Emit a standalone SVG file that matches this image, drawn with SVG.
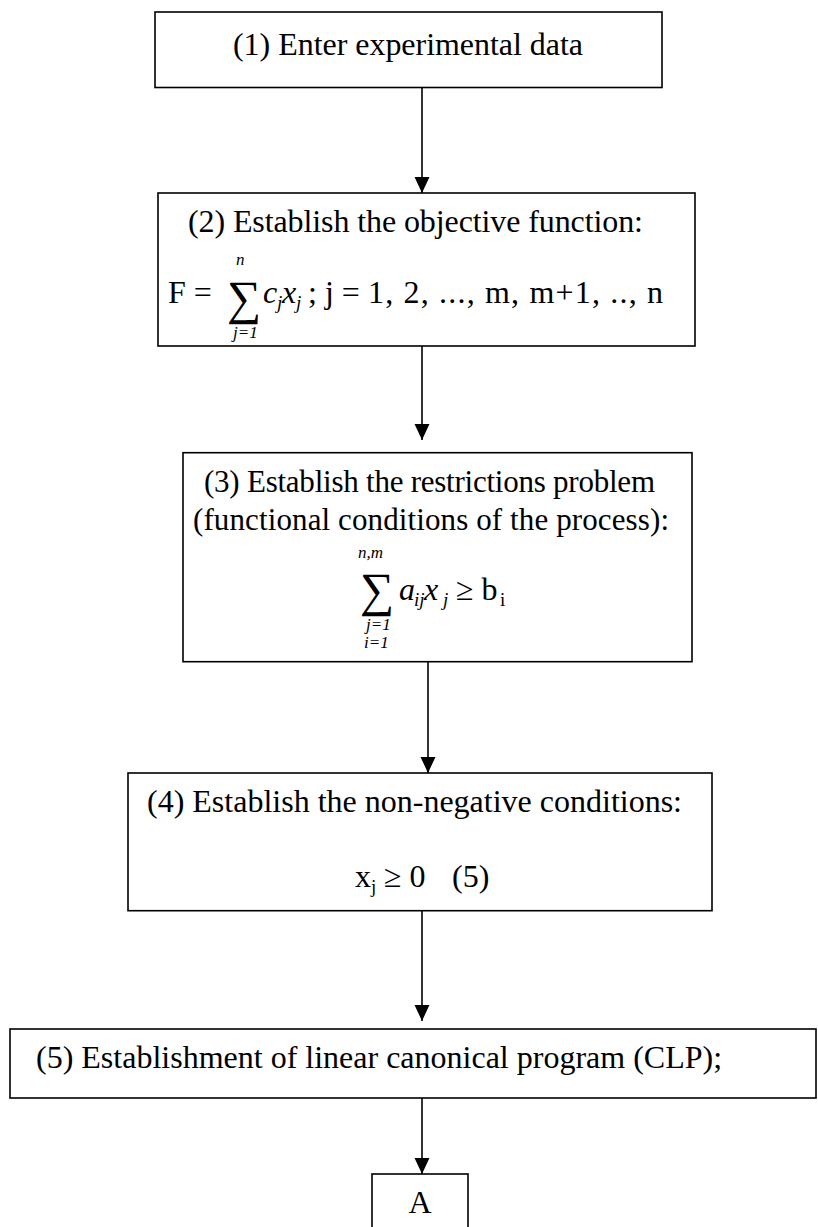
<svg xmlns="http://www.w3.org/2000/svg" width="818" height="1227" viewBox="0 0 818 1227">
  <style>
    .box { fill: #ffffff; stroke: #000000; stroke-width: 1.6; }
    .t { font-family: "Liberation Serif", "Times New Roman", serif; font-size: 32px; fill: #000000; }
    .t31 { font-size: 31px; }
    .it { font-style: italic; }
    .sub { font-size: 19px; }
    .lim { font-size: 17px; }
    .sig { font-family: "Liberation Serif", "DejaVu Serif", serif; font-size: 48px; fill: #000000; }
    .mid { text-anchor: middle; }
    .edge { stroke: #000000; stroke-width: 1.6; fill: none; marker-end: url(#head); }
  </style>
  <defs>
    <marker id="head" markerUnits="userSpaceOnUse" markerWidth="16" markerHeight="16" viewBox="0 0 15 14" refX="15" refY="7" orient="auto">
      <path d="M0,0 L15,7 L0,14 z" fill="#000000"/>
    </marker>
  </defs>

  <rect width="818" height="1227" fill="#ffffff"/>

  <!-- flow arrows between the steps -->
  <g id="connectors">
    <line class="edge" x1="422" y1="87.5" x2="422" y2="193"/>
    <line class="edge" x1="422" y1="346" x2="422" y2="440"/>
    <line class="edge" x1="428" y1="662" x2="428" y2="773"/>
    <line class="edge" x1="422" y1="911" x2="422" y2="1021"/>
    <line class="edge" x1="422" y1="1098" x2="422" y2="1174"/>
  </g>

  <g id="node-1">
    <rect class="box" x="155" y="12" width="507" height="75.5"/>
    <text class="t mid" x="408" y="55" textLength="350">(1) Enter experimental data</text>
  </g>

  <!-- objective function F = sum c_j x_j -->
  <g id="node-2">
    <rect class="box" x="158" y="193" width="537" height="153"/>
    <text class="t mid" x="415.5" y="232" textLength="455">(2) Establish the objective function:</text>
    <text class="t" x="168" y="303">F =</text>
    <text class="sig" x="227" y="314">∑</text>
    <text class="t it lim" x="236" y="265">n</text>
    <text class="t it lim" x="233" y="338">j=1</text>
    <text class="t it" x="263" y="303">c</text>
    <text class="t it sub" x="277" y="309">j</text>
    <text class="t it" x="282" y="303">x</text>
    <text class="t it sub" x="296" y="309">j</text>
    <text class="t" x="308" y="303">; j =</text>
    <text class="t" x="368" y="303" textLength="295">1, 2, ..., m, m+1, .., n</text>
  </g>

  <!-- restrictions: sum a_ij x_j >= b_i -->
  <g id="node-3">
    <rect class="box" x="183" y="452.7" width="509" height="209"/>
    <text class="t t31 mid" x="429.5" y="492" textLength="451">(3) Establish the restrictions problem</text>
    <text class="t t31 mid" x="431" y="530" textLength="476">(functional conditions of the process):</text>
    <text class="t it lim" x="358" y="558">n,m</text>
    <text class="sig" x="360" y="606">∑</text>
    <text class="t it" x="399" y="600">a</text>
    <text class="t it sub" x="414" y="606">ij</text>
    <text class="t it" x="424" y="600">x</text>
    <text class="t it sub" x="443" y="606">j</text>
    <text class="t" x="456" y="600">≥ b</text>
    <text class="t sub" x="500" y="606">i</text>
    <text class="t it lim" x="366" y="630">j=1</text>
    <text class="t it lim" x="364" y="648">i=1</text>
  </g>

  <g id="node-4">
    <rect class="box" x="128" y="773" width="584" height="137.7"/>
    <text class="t mid" x="414.5" y="812" textLength="535">(4) Establish the non-negative conditions:</text>
    <text class="t" x="355" y="887">x</text>
    <text class="t sub" x="371" y="893">j</text>
    <text class="t" x="384" y="887">≥ 0</text>
    <text class="t" x="452" y="887">(5)</text>
  </g>

  <g id="node-5">
    <rect class="box" x="10" y="1029" width="806" height="69"/>
    <text class="t" x="36" y="1068">(5) Establishment of linear canonical program (CLP);</text>
  </g>

  <g id="node-A">
    <rect class="box" x="372" y="1174" width="96" height="70"/>
    <text class="t mid" x="420" y="1213">A</text>
  </g>
</svg>
